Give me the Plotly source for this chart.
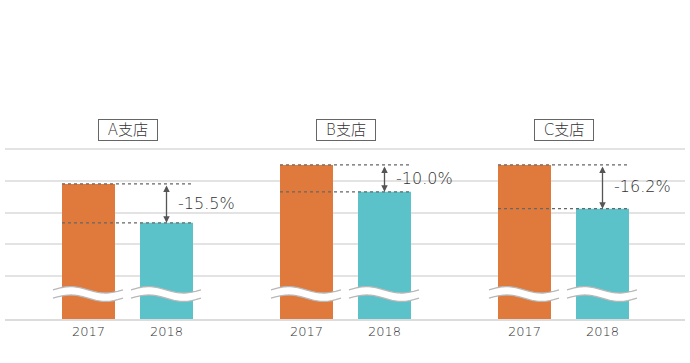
import numpy as np
import plotly.graph_objects as go

# ---- data ----
branches = ["A支店", "B支店", "C支店"]
years = ["2017", "2018"]
sales_2017 = [790, 850, 850]
sales_2018 = [667.5, 765, 712]
change_labels = ["-15.5%", "-10.0%", "-16.2%"]
grid_values = [500, 600, 700, 800, 900]

# ---- styling / geometry ----
W, H = 690, 363
ML, MR, MT, MB = 5, 5, 100, 44
PX_PER_X = 218.0          # pixels per group unit
PX_PER_Y = 0.3175         # pixels per value unit
Y_MIN = 364.6
Y_MAX = Y_MIN + (H - MT - MB) / PX_PER_Y
X_MIN = -122.5 / PX_PER_X
X_MAX = X_MIN + (W - ML - MR) / PX_PER_X

ORANGE = "#E07A3C"
TEAL = "#5AC2C8"
FONT = "DejaVu Sans, Noto Sans CJK JP"
TEXT_COLOR = "#333333"

offset = 39 / PX_PER_X
bar_w = 53 / PX_PER_X
gx = np.arange(len(branches), dtype=float)
x17 = gx - offset
x18 = gx + offset

fig = go.Figure()
fig.add_bar(x=x17, y=sales_2017, width=bar_w, marker=dict(color=ORANGE, line=dict(width=0)),
            name="2017", hoverinfo="skip")
fig.add_bar(x=x18, y=sales_2018, width=bar_w, marker=dict(color=TEAL, line=dict(width=0)),
            name="2018", hoverinfo="skip")

shapes = []
annotations = []

# wave break geometry (px converted to data units)
wave_y = (434.75 - 294) / PX_PER_Y
half_t = 4.2 / PX_PER_Y
amp = 3.2 / PX_PER_Y
ext_l = 9 / PX_PER_X
ext_r = 8 / PX_PER_X


def wave_path(x0, x1, dy):
    t = np.linspace(0, 1, 40)
    xs = x0 + (x1 - x0) * t
    ys = wave_y + dy + amp * np.sin(2 * np.pi * t)
    return xs, ys


for i in range(len(branches)):
    xl = x17[i] - bar_w / 2
    xr = x18[i] + bar_w / 2
    # dotted reference lines
    for v in (sales_2017[i], sales_2018[i]):
        shapes.append(dict(type="line", xref="x", yref="y", x0=xl, x1=xr, y0=v, y1=v,
                           line=dict(color="#666666", width=1.2, dash="dot"), layer="above"))
    # arrow
    annotations.append(dict(x=x18[i], y=sales_2018[i], ax=x18[i], ay=sales_2017[i],
                            xref="x", yref="y", axref="x", ayref="y", text="",
                            showarrow=True, arrowhead=2, arrowside="end+start",
                            arrowsize=1, arrowwidth=1.3, arrowcolor="#555555", standoff=0,
                            startstandoff=0))
    annotations.append(dict(x=x18[i] + 9 / PX_PER_X, y=(sales_2017[i] + sales_2018[i]) / 2,
                            xref="x", yref="y", text=change_labels[i], showarrow=False,
                            xanchor="left", yanchor="middle",
                            font=dict(family=FONT, size=16, color=TEXT_COLOR, weight=300)))
    # branch title box
    annotations.append(dict(x=gx[i], y=(319 - 129.5) / (H - MT - MB),
                            xref="x", yref="paper", text=branches[i], showarrow=False,
                            xanchor="center", yanchor="middle", width=58, height=20,
                            borderpad=0, bordercolor="#666666", borderwidth=1, bgcolor="white",
                            font=dict(family=FONT, size=15, color=TEXT_COLOR, weight=300)))
    # wave breaks on each bar
    for xc in (x17[i], x18[i]):
        a0 = xc - bar_w / 2 - ext_l
        a1 = xc + bar_w / 2 + ext_r
        xs_t, ys_t = wave_path(a0, a1, half_t)
        xs_b, ys_b = wave_path(a0, a1, -half_t)
        fill = "M " + " L ".join(f"{x:.5f},{y:.3f}" for x, y in zip(xs_t, ys_t))
        fill += " L " + " L ".join(f"{x:.5f},{y:.3f}" for x, y in zip(xs_b[::-1], ys_b[::-1])) + " Z"
        shapes.append(dict(type="path", xref="x", yref="y", path=fill, fillcolor="white",
                           line=dict(width=0), layer="above"))
        for xs, ys in ((xs_t, ys_t), (xs_b, ys_b)):
            p = "M " + " L ".join(f"{x:.5f},{y:.3f}" for x, y in zip(xs, ys))
            shapes.append(dict(type="path", xref="x", yref="y", path=p,
                               line=dict(color="#b8b8b8", width=1.3), layer="above"))

tick_x = []
tick_t = []
for i in range(len(branches)):
    tick_x += [x17[i], x18[i]]
    tick_t += years

fig.update_layout(
    width=W, height=H,
    margin=dict(l=ML, r=MR, t=MT, b=MB),
    paper_bgcolor="white", plot_bgcolor="white",
    showlegend=False, barmode="overlay",
    shapes=shapes, annotations=annotations,
    xaxis=dict(range=[X_MIN, X_MAX], tickvals=tick_x, ticktext=tick_t, showgrid=False,
               zeroline=False, showline=True, linecolor="#dcdcdc", linewidth=1.5,
               ticks="", tickfont=dict(family=FONT, size=13, color=TEXT_COLOR, weight=300)),
    yaxis=dict(range=[Y_MIN, Y_MAX], tickvals=grid_values, showticklabels=False,
               showgrid=True, gridcolor="#e3e3e3", gridwidth=1.5, zeroline=False,
               showline=False, ticks=""),
)

fig.write_html("out.html", config={"displayModeBar": False},
               post_script="document.body.style.margin='0';")
